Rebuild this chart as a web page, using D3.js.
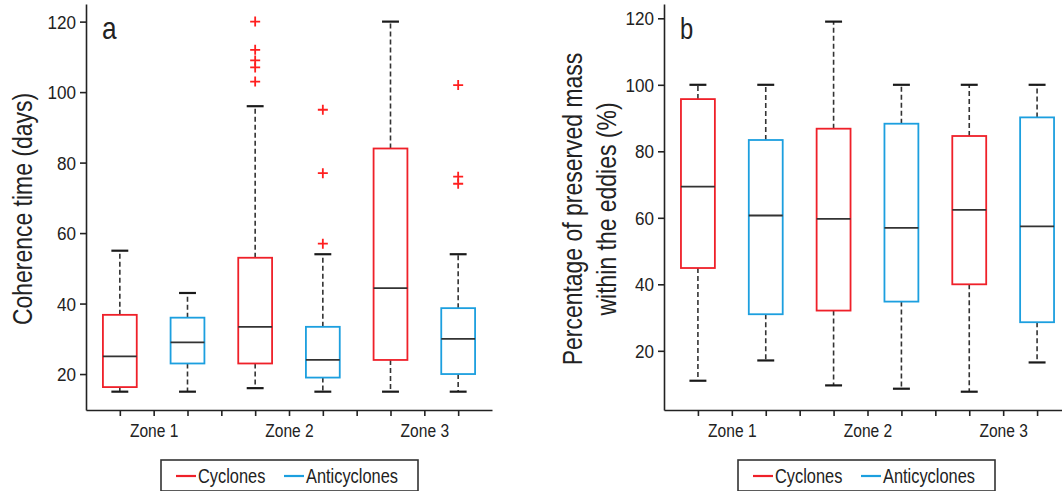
<!DOCTYPE html>
<html>
<head>
<meta charset="utf-8">
<script src="https://cdn.jsdelivr.net/npm/d3@7"></script>
<style>
  body { margin: 0; background: #fff; }
  svg text { font-family: "Liberation Sans", Arial, sans-serif; fill: #222; }
</style>
</head>
<body>
<svg id="chart" width="1062" height="491"></svg>
<script>
// categories
const zones = ["Zone 1", "Zone 2", "Zone 3"];
const seriesNames = ["Cyclones", "Anticyclones"];
const yTicks = [20, 40, 60, 80, 100, 120];

// box stats per zone: [lower whisker, q1, median, q3, upper whisker]
const coherenceCyclones = [[15, 16.3, 25, 36.8, 55], [16, 23, 33.4, 53, 96], [15, 24, 44.4, 84, 120]];
const coherenceAnticyclones = [[15, 23, 29, 36, 43], [15, 19, 24, 33.4, 54], [15, 20, 30, 38.7, 54]];
const coherenceCycloneOutliers = [[], [120, 112, 109, 107, 103], []];
const coherenceAnticycloneOutliers = [[], [95, 77, 57], [102, 76, 74]];

const massCyclones = [[11, 44.9, 69.4, 95.7, 100], [9.6, 32.1, 59.7, 86.8, 119], [7.7, 40, 62.4, 84.6, 100]];
const massAnticyclones = [[17.1, 31, 60.7, 83.4, 100], [8.6, 34.8, 57, 88.3, 100], [16.5, 28.6, 57.4, 90.2, 100]];
const massCycloneOutliers = [[], [], []];
const massAnticycloneOutliers = [[], [], []];

const colors = ["#ef2029", "#1c9fdf"];
const outlierColor = "#ff1f1f";

const svg = d3.select("#chart");

// only a regular face is installed: squeeze it horizontally to narrow proportions
function narrow(sel, k) {
    sel.each(function () {
        const t = d3.select(this);
        const x0 = +t.attr("x") || 0;
        t.attr("x", x0 / k).attr("transform", `scale(${k},1)`);
    });
}

function drawPanel(opt) {
    const x = d3.scaleLinear().domain([0, 12]).range(opt.xRange);
    const y = d3.scaleLinear().domain(opt.yDomain).range([410, 4]);
    const g = svg.append("g");

    // axes
    const labelAt = {};
    zones.forEach((z, i) => { labelAt[i * 4 + 2] = z; });
    const xAxis = g.append("g")
        .attr("transform", "translate(0,410)")
        .call(d3.axisBottom(x).tickValues(d3.range(1, 12)).tickSize(6).tickSizeOuter(0).tickPadding(8)
            .tickFormat(d => labelAt[d] || ""));
    const yAxis = g.append("g")
        .attr("transform", `translate(${opt.xRange[0]},0)`)
        .call(d3.axisLeft(y).tickValues(yTicks).tickSize(6).tickSizeOuter(0).tickPadding(4));
    [xAxis, yAxis].forEach(a => {
        a.selectAll("path, line").attr("stroke", "#222").attr("stroke-width", 1.6);
        a.selectAll("text").style("font-size", "19px").attr("fill", "#222");
    });
    yAxis.selectAll("text").attr("dy", "0.35em");
    narrow(xAxis.selectAll("text"), 0.82);
    narrow(yAxis.selectAll("text"), 0.9);

    // boxes
    const half = (x(1) - x(0)) / 2;
    [opt.cyc, opt.anti].forEach((stats, s) => {
        stats.forEach((st, zi) => {
            const cx = x(zi * 4 + s * 2 + 1);
            const [lo, q1, med, q3, hi] = st;
            const bg = g.append("g");
            // whiskers
            [[q3, hi], [q1, lo]].forEach(([a, b]) => {
                bg.append("line").attr("x1", cx).attr("x2", cx).attr("y1", y(a)).attr("y2", y(b))
                    .attr("stroke", "#333").attr("stroke-width", 1.6).attr("stroke-dasharray", "5,3");
                bg.append("line").attr("x1", cx - half / 2).attr("x2", cx + half / 2).attr("y1", y(b)).attr("y2", y(b))
                    .attr("stroke", "#1a1a1a").attr("stroke-width", 2.2);
            });
            bg.append("rect").attr("x", cx - half).attr("width", half * 2)
                .attr("y", y(q3)).attr("height", y(q1) - y(q3))
                .attr("fill", "none").attr("stroke", colors[s]).attr("stroke-width", 1.8);
            bg.append("line").attr("x1", cx - half).attr("x2", cx + half).attr("y1", y(med)).attr("y2", y(med))
                .attr("stroke", "#333").attr("stroke-width", 1.8);
            // outliers
            const outs = (s === 0 ? opt.cycOut : opt.antiOut)[zi];
            outs.forEach(v => {
                bg.append("path").attr("d", `M${cx - 5},${y(v)}h10M${cx},${y(v) - 5}v10`)
                    .attr("stroke", outlierColor).attr("stroke-width", 1.8).attr("fill", "none");
            });
        });
    });

    // panel letter
    const letter = g.append("text").attr("x", opt.xRange[0] + 16).attr("y", 39).text(opt.letter)
        .style("font-size", opt.letterSize);
    narrow(letter, 0.82);

    // y label
    opt.yLabel.forEach((line, i) => {
        g.append("text")
            .attr("transform", `translate(${opt.yLabelX[i]},${opt.yLabelY}) rotate(-90) scale(0.82,1)`)
            .attr("text-anchor", "middle")
            .style("font-size", opt.yLabelSize)
            .text(line);
    });

    // legend
    const lg = g.append("g").attr("transform", `translate(${opt.legendX},460)`);
    lg.append("rect").attr("width", 257).attr("height", 31)
        .attr("fill", "#fff").attr("stroke", "#333").attr("stroke-width", 1.6);
    const offsets = [15, 123];
    seriesNames.forEach((name, s) => {
        lg.append("line").attr("x1", offsets[s]).attr("x2", offsets[s] + 20).attr("y1", 16).attr("y2", 16)
            .attr("stroke", colors[s]).attr("stroke-width", 2.2);
        const t = lg.append("text").attr("x", offsets[s] + 22).attr("y", 23).style("font-size", "20px").text(name);
        narrow(t, 0.82);
    });
}

drawPanel({
    xRange: [86, 492], yDomain: [9.8, 125],
    cyc: coherenceCyclones, anti: coherenceAnticyclones,
    cycOut: coherenceCycloneOutliers, antiOut: coherenceAnticycloneOutliers,
    letter: "a", letterSize: "32px",
    yLabel: ["Coherence time (days)"], yLabelX: [32], yLabelY: 209, yLabelSize: "28px",
    legendX: 161
});

drawPanel({
    xRange: [664, 1071], yDomain: [2.2, 124.3],
    cyc: massCyclones, anti: massAnticyclones,
    cycOut: massCycloneOutliers, antiOut: massAnticycloneOutliers,
    letter: "b", letterSize: "29px",
    yLabel: ["Percentage of preserved mass", "within the eddies (%)"], yLabelX: [582, 616], yLabelY: 209, yLabelSize: "28px",
    legendX: 738
});
</script>
</body>
</html>
